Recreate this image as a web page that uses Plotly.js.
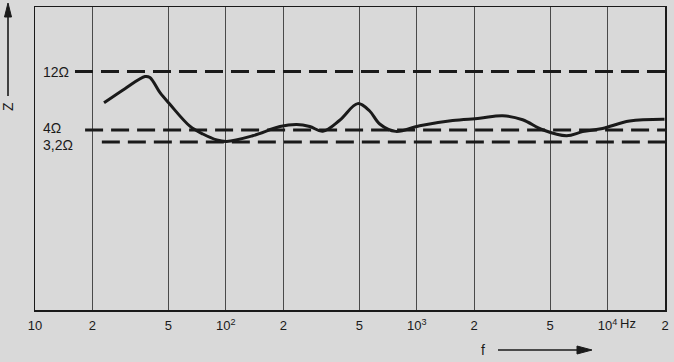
<!DOCTYPE html>
<html>
<head>
<meta charset="utf-8">
<script src="https://cdn.plot.ly/plotly-3.0.1.min.js"></script>
<style>
html,body{margin:0;padding:0;background:#d9d9d9;}
#chart{width:674px;height:362px;}
</style>
</head>
<body>
<div id="chart"></div>
<script>
// Frequency (Hz) and impedance Z (Ω)
const freq = [23, 29.6, 37.7, 40, 45.1, 50.9, 64.8, 75.8, 89.7, 101, 138, 192, 235, 275, 322, 395, 491, 567, 640, 776, 1037, 1543, 2137, 2821, 3589, 4567, 6100, 7398, 9414, 13040, 19880];
const impedance = [6.67, 8.70, 10.94, 10.74, 8.11, 6.49, 4.30, 3.71, 3.32, 3.23, 3.59, 4.27, 4.44, 4.28, 3.91, 4.81, 6.57, 5.72, 4.48, 3.90, 4.34, 4.78, 4.99, 5.24, 4.85, 4.02, 3.59, 3.88, 4.12, 4.74, 4.89];

// Reference impedance levels (Ω) and their labels
const levels = [12, 4, 3.2];
const levelLabels = ["12Ω", "4Ω", "3,2Ω"];

// Frequency axis ticks
const tickFreqs = [10, 20, 50, 100, 200, 500, 1000, 2000, 5000, 10000, 20000];
const tickLabels = ["10", "2", "5", "10<sup>2</sup>", "2", "5", "10<sup>3</sup>", "2", "5", "10<sup>4</sup>", "2"];

// ---- styling / placement (not data) ----
const levelStartFreq = [16.2, 18.3, 22.4];
const levelLabelShift = [0, 2, -3];
const FONT = "Liberation Sans, Arial, sans-serif";
const INK = "#1a1a1a";
const M = {l: 35, r: 9, t: 7, b: 52};
const W = 674, H = 362;
const PW = W - M.l - M.r, PH = H - M.t - M.b;
const px = v => (v - M.l) / PW;
const py = v => (H - M.b - v) / PH;

const traces = [];
levels.forEach((z, i) => {
  traces.push({
    x: [levelStartFreq[i], 20000], y: [z, z],
    mode: "lines", type: "scatter", hoverinfo: "skip",
    line: {color: INK, width: 3, dash: "18px,8px"}
  });
});
traces.push({
  x: freq, y: impedance, mode: "lines", type: "scatter",
  line: {color: INK, width: 3, shape: "spline", smoothing: 1}
});

const annotations = levels.map((z, i) => ({
  x: px(41), xref: "paper", y: Math.log10(z), yref: "y",
  yshift: levelLabelShift[i],
  text: levelLabels[i], showarrow: false, xanchor: "left",
  font: {family: FONT, size: 14, color: INK}
}));
annotations.push({
  x: px(638), xref: "paper", y: py(324), yref: "paper", yanchor: "middle",
  text: "Hz", showarrow: false, font: {family: FONT, size: 13, color: INK}
});
annotations.push({
  x: px(8), xref: "paper", y: py(107), yref: "paper",
  xanchor: "center", yanchor: "middle",
  text: "Z", textangle: -90, showarrow: false,
  font: {family: FONT, size: 14, color: INK}
});
annotations.push({
  x: px(487), xref: "paper", y: py(350), yref: "paper", yanchor: "middle",
  text: "f", showarrow: false, font: {family: FONT, size: 14, color: INK}
});

const shapes = [
  {type: "line", xref: "paper", yref: "paper", x0: px(8), x1: px(8), y0: py(96), y1: py(14),
   line: {color: INK, width: 1.6}},
  {type: "path", xref: "paper", yref: "paper",
   path: `M ${px(8)} ${py(3)} L ${px(4.5)} ${py(17)} L ${px(11.5)} ${py(17)} Z`,
   fillcolor: INK, line: {color: INK, width: 1}},
  {type: "line", xref: "paper", yref: "paper", x0: px(498), x1: px(580), y0: py(350), y1: py(350),
   line: {color: INK, width: 1.6}},
  {type: "path", xref: "paper", yref: "paper",
   path: `M ${px(592)} ${py(350)} L ${px(577)} ${py(346)} L ${px(577)} ${py(354)} Z`,
   fillcolor: INK, line: {color: INK, width: 1}}
];

const layout = {
  width: W, height: H,
  margin: M,
  paper_bgcolor: "#d9d9d9", plot_bgcolor: "#d9d9d9",
  showlegend: false,
  xaxis: {
    type: "log", range: [1, Math.log10(20000)],
    tickvals: tickFreqs, ticktext: tickLabels, ticks: "",
    showgrid: true, gridcolor: "#4a4a4a", gridwidth: 1,
    showline: true, linecolor: INK, linewidth: 1.5, mirror: true,
    zeroline: false, ticklabelstandoff: 3,
    tickfont: {family: FONT, size: 13, color: INK}
  },
  yaxis: {
    type: "log", range: [-0.8671, 1.6064],
    showticklabels: false, ticks: "", showgrid: false,
    showline: true, linecolor: INK, linewidth: 1.5, mirror: true,
    zeroline: false
  },
  annotations: annotations,
  shapes: shapes
};

Plotly.newPlot("chart", traces, layout, {displayModeBar: false, staticPlot: true});
</script>
</body>
</html>
